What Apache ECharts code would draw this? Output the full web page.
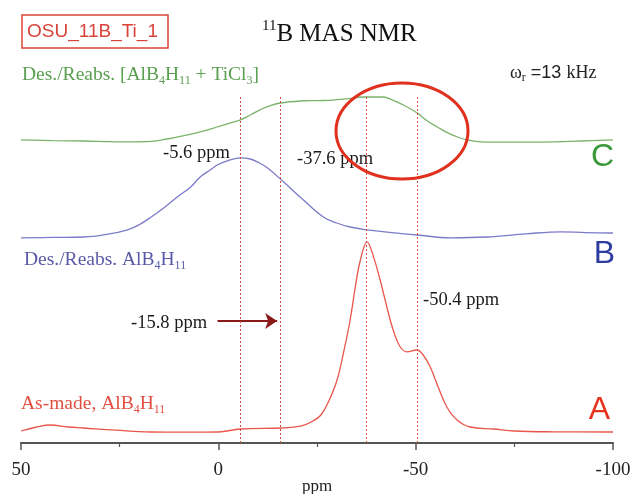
<!DOCTYPE html>
<html lang="en">
<head>
<meta charset="utf-8">
<title>11B MAS NMR</title>
<script src="https://cdn.jsdelivr.net/npm/echarts@6/dist/echarts.min.js"></script>
<style type="text/css">
    html, body {
        width: 100%;
        height: 100%;
        margin: 0px;
        padding: 0px;
        background: #fff;
    }
    #main {
        width: 632px;
        height: 494px;
    }
</style>
</head>
<body>
<div id="main"></div>
<script>
    // spectra as drawn (stacked): [ppm, height]
    var traceC = [[50, 75.8], [42, 75.6], [34, 75.5], [26, 75.3], [21.5, 75.3], [17, 75.4], [13, 76], [9, 76.8],
        [4.6, 77.8], [0.3, 79], [-2.3, 79.8], [-5.6, 80.8], [-8.1, 82], [-10.6, 83.3], [-13, 84.3], [-15.7, 85],
        [-20.8, 85.5], [-25, 85.6], [-29, 85.7], [-33, 86.1], [-36.7, 86.5], [-41.8, 86.5], [-44, 85.8], [-46.9, 84.5],
        [-50.4, 82.5], [-53, 80.5], [-55.5, 79], [-58, 77.6], [-60.6, 76.5], [-63, 75.8], [-66.4, 75.3], [-70, 75.2],
        [-75, 75.2], [-85, 75.3], [-92, 75.5], [-100, 75.8]];
    var traceB = [[50, 51.3], [42, 51.4], [34, 51.5], [28, 52.2], [23, 53.3], [20, 54.6], [17, 56.5], [13.5, 59],
        [10.4, 61.5], [7, 64], [4.6, 66.5], [2, 68.3], [0.3, 69.5], [-3, 70.8], [-5.6, 71.3], [-8.1, 71], [-10, 70.2],
        [-12.4, 68.8], [-16.5, 65.3], [-21.5, 60.8], [-26.6, 56.5], [-30, 55], [-33.4, 54], [-37.7, 53.3], [-44, 52.6],
        [-50.4, 52], [-58.8, 51.3], [-68, 51.5], [-78, 52.3], [-87, 52.8], [-93, 52.6], [-100, 52.5]];
    var traceA = [[50, 3], [46, 4], [42.6, 4.5], [38, 4], [34.2, 3.75], [26, 3.2], [17.2, 2.75], [8, 2.7], [0, 2.75],
        [-5.6, 3.5], [-15.7, 3.75], [-20.8, 4.2], [-24, 5.5], [-26, 7], [-28, 10.5], [-30, 15.5], [-31.7, 22.5],
        [-33.4, 30.75], [-34.7, 39], [-36, 45.75], [-37.7, 50.3], [-39.3, 46.6], [-41, 40.75], [-42.7, 34],
        [-44.3, 28.25], [-46.1, 24], [-47.8, 22.8], [-50.3, 23.25], [-51.9, 22], [-53.7, 19], [-55.7, 14], [-57.9, 9],
        [-60.5, 5.75], [-63.8, 4], [-69.7, 3.5], [-75, 3], [-85, 2.8], [-100, 2.75]];
    var peakPpm = [-5.6, -15.8, -37.6, -50.4];
    var guideTop = 86.5;
    var arrowFrom = [0.2, 30.5];
    var arrowTo = [-14.9, 30.5];

    var serif = 'Liberation Serif';
    var sans = 'Liberation Sans';

    function sub(size) {
        return {fontFamily: serif, fontSize: size, lineHeight: 10, verticalAlign: 'bottom'};
    }

    function label(x, y, rich, text, color) {
        return {
            type: 'text', x: x, y: y,
            style: {text: text, rich: rich, fill: color, align: 'left', verticalAlign: 'middle'}
        };
    }

    var myChart = echarts.init(document.getElementById('main'));

    var normal19 = {fontFamily: serif, fontSize: 19.5, lineHeight: 24};
    var peakStyle = {fontFamily: serif, fontSize: 18.5, fill: '#1a1a1a'};

    var option = {
        animation: false,
        backgroundColor: '#fff',
        grid: {left: 21, right: 19, top: 43, bottom: 51, outerBoundsMode: 'none'},
        xAxis: {
            type: 'value',
            inverse: true,
            min: -100,
            max: 50,
            interval: 50,
            name: 'ppm',
            nameLocation: 'middle',
            nameGap: 35,
            nameMoveOverlap: false,
            nameTextStyle: {fontFamily: serif, fontSize: 17, color: '#222'},
            axisLine: {onZero: false, lineStyle: {color: '#555', width: 2}},
            axisTick: {length: 7, lineStyle: {color: '#555', width: 1.5}},
            minorTick: {show: true, splitNumber: 2, length: 4, lineStyle: {color: '#555', width: 1.2}},
            splitLine: {show: false},
            axisLabel: {fontFamily: serif, fontSize: 19, color: '#222', margin: 18}
        },
        yAxis: {type: 'value', min: 0, max: 100, show: false},
        series: [
            {
                type: 'line', data: traceC, showSymbol: false, smooth: 0.4,
                lineStyle: {color: '#7ab36a', width: 1.3}
            },
            {
                type: 'line', data: traceB, showSymbol: false, smooth: 0.4,
                lineStyle: {color: '#7b7bc8', width: 1.3},
                markLine: {
                    silent: true,
                    symbol: ['none', 'arrow'],
                    symbolSize: 12,
                    label: {show: false},
                    itemStyle: {color: '#8b1a1a'},
                    lineStyle: {color: '#8b1a1a', width: 2, type: 'solid'},
                    data: [[{coord: arrowFrom}, {coord: arrowTo}]]
                }
            },
            {
                type: 'line', data: traceA, showSymbol: false, smooth: 0.4,
                lineStyle: {color: '#e8564a', width: 1.3},
                markLine: {
                    silent: true,
                    symbol: 'none',
                    label: {show: false},
                    itemStyle: {color: '#d04a40'},
                    lineStyle: {color: '#d04a40', width: 1, type: [2, 2], opacity: 1},
                    data: peakPpm.map(function (p) {
                        return [{coord: [p, guideTop]}, {coord: [p, 0]}];
                    })
                }
            }
        ],
        graphic: [
            {
                type: 'rect', shape: {x: 22, y: 15, width: 146, height: 33},
                style: {fill: 'none', stroke: '#d9443a', lineWidth: 1.5}
            },
            {
                type: 'text', x: 27, y: 32,
                style: {text: 'OSU_11B_Ti_1', font: '19px "Liberation Sans"', fill: '#d9443a', verticalAlign: 'middle'}
            },
            label(262, 34, {
                sp: {fontFamily: serif, fontSize: 15, lineHeight: 12, verticalAlign: 'top'},
                t: {fontFamily: serif, fontSize: 25, lineHeight: 30}
            }, '{sp|11}{t|B MAS NMR}', '#111'),
            label(22, 75, {t: normal19, s: sub(12)},
                '{t|Des./Reabs. [AlB}{s|4}{t|H}{s|11}{t| + TiCl}{s|3}{t|]}', '#5aa050'),
            label(510, 73, {
                t: {fontFamily: serif, fontSize: 18, lineHeight: 22},
                s: sub(12),
                a: {fontFamily: sans, fontSize: 18, lineHeight: 22}
            }, '{t|ω}{s|r}{a| =13 }{t|kHz}', '#222'),
            label(24, 260, {t: normal19, s: sub(12)}, '{t|Des./Reabs. AlB}{s|4}{t|H}{s|11}', '#5a5aa8'),
            label(21, 404, {t: normal19, s: sub(12)}, '{t|As-made, AlB}{s|4}{t|H}{s|11}', '#e05040'),
            {type: 'text', x: 163, y: 153, style: Object.assign({text: '-5.6 ppm', verticalAlign: 'middle'}, peakStyle)},
            {type: 'text', x: 297, y: 159, style: Object.assign({text: '-37.6 ppm', verticalAlign: 'middle'}, peakStyle)},
            {type: 'text', x: 423, y: 300, style: Object.assign({text: '-50.4 ppm', verticalAlign: 'middle'}, peakStyle)},
            {type: 'text', x: 131, y: 323, style: Object.assign({text: '-15.8 ppm', verticalAlign: 'middle'}, peakStyle)},
            {
                type: 'text', x: 614, y: 157,
                style: {text: 'C', font: '32px "Liberation Sans"', fill: '#3a9a3a', align: 'right', verticalAlign: 'middle'}
            },
            {
                type: 'text', x: 615, y: 254,
                style: {text: 'B', font: '32px "Liberation Sans"', fill: '#2e3ea0', align: 'right', verticalAlign: 'middle'}
            },
            {
                type: 'text', x: 610, y: 410,
                style: {text: 'A', font: '32px "Liberation Sans"', fill: '#e8321e', align: 'right', verticalAlign: 'middle'}
            },
            {
                type: 'ellipse', shape: {cx: 402, cy: 131, rx: 66, ry: 48}, z: 10,
                style: {fill: 'none', stroke: '#e0301e', lineWidth: 3}
            }
        ]
    };

    myChart.setOption(option);
</script>
</body>
</html>
